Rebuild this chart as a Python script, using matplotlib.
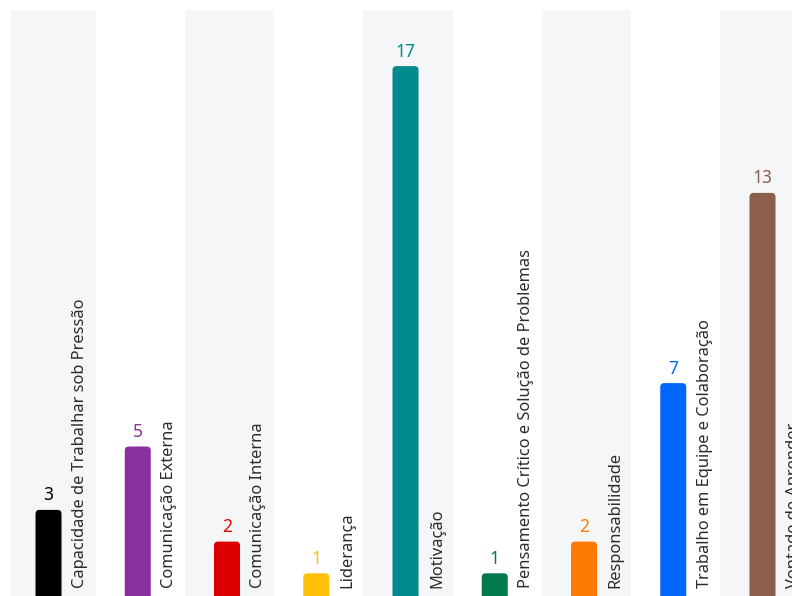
import matplotlib.pyplot as plt
from matplotlib.patches import FancyBboxPatch

categories = [
    "Capacidade de Trabalhar sob Pressão",
    "Comunicação Externa",
    "Comunicação Interna",
    "Liderança",
    "Motivação",
    "Pensamento Crítico e Solução de Problemas",
    "Responsabilidade",
    "Trabalho em Equipe e Colaboração",
    "Vontade de Aprender",
]
counts = [3, 5, 2, 1, 17, 1, 2, 7, 13]
colors = [
    "#000000", "#8a2f9e", "#dc0000", "#ffc107", "#008b8f",
    "#007a4d", "#ff7a00", "#0066ff", "#8c5e4c",
]

W, H = 792, 596
PITCH = 89.25      # px per category
UNIT = 31.7        # px per count
X0 = 48.5          # px centre of the first bar
BASE = 605         # px (from top) of the zero line, below the frame
LEFT, TOP = 11, 10 # px where the plot area starts

plt.rcParams["font.family"] = ["Noto Sans", "DejaVu Sans"]

fig = plt.figure(figsize=(W / 100, H / 100), dpi=100)
ax = fig.add_axes([LEFT / W, 0, 1 - LEFT / W, (H - TOP) / H])
ax.set_xlim((LEFT - X0) / PITCH, (W - X0) / PITCH)
ax.set_ylim((BASE - H) / UNIT, (BASE - TOP) / UNIT)
ax.axis("off")

bar_w = 26 / PITCH
r = 4 / PITCH
aspect = PITCH / UNIT

for i, (name, n, c) in enumerate(zip(categories, counts, colors)):
    # alternating background bands
    if i % 2 == 0:
        ax.axvspan(i - 0.475, i + 0.53, color="#f5f6f8", zorder=0, lw=0)

    bar = FancyBboxPatch(
        (i - bar_w / 2, -1), bar_w, n + 1,
        boxstyle=f"round,pad=0,rounding_size={r}",
        mutation_aspect=aspect, fc=c, ec="none", zorder=2,
    )
    ax.add_patch(bar)

    ax.annotate(
        str(n), (i, n), xytext=(0, 4), textcoords="offset points",
        ha="center", va="bottom", color=c, fontsize=12.5, zorder=3,
    )
    ax.text(
        i + 31.5 / PITCH, (BASE - 588) / UNIT, name, rotation=90,
        ha="center", va="bottom", color="#2b2b2b", fontsize=11.8, zorder=3,
    )

fig.savefig("out.png", dpi=100)
